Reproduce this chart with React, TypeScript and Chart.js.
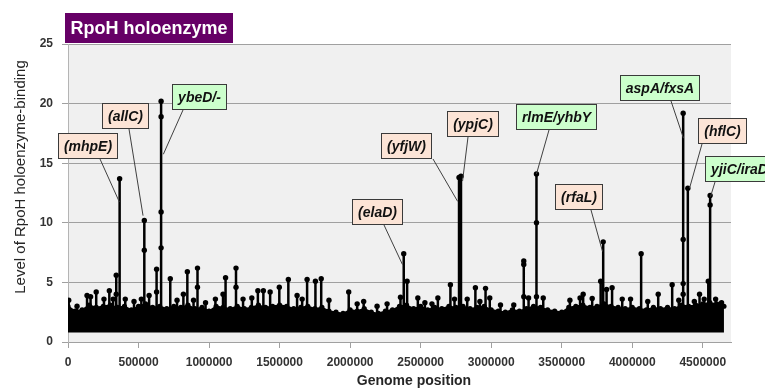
import React, { useEffect, useRef } from "react";
import { Chart, registerables } from "chart.js";

Chart.register(...registerables);

const FONT = "'Liberation Sans', Arial, Helvetica, sans-serif";

// ---------- data ----------
const xTickValues = [0, 500000, 1000000, 1500000, 2000000, 2500000, 3000000, 3500000, 4000000, 4500000];
const xMax = 4700000;
const yMax = 25;
const yTickStep = 5;

// upper edge of the dense background band, every 50 kb from 0
const bandStep = 50000;
const bandTop = [
  3.0, 2.6, 2.7, 3.1, 2.9, 3.0, 3.1, 2.9, 3.0, 2.7,
  3.0, 3.2, 2.9, 3.0, 2.8, 3.0, 2.9, 3.1, 2.8, 2.9,
  2.6, 3.0, 2.9, 2.8, 3.0, 2.8, 2.9, 3.1, 2.9, 3.0,
  3.1, 3.0, 2.8, 2.9, 3.0, 2.8, 2.9, 2.6, 2.5, 2.4,
  2.7, 2.6, 2.8, 2.5, 2.4, 2.6, 2.7, 3.0, 3.1, 2.8,
  3.0, 2.7, 2.9, 2.8, 3.0, 2.9, 3.0, 2.8, 2.9, 3.0,
  2.7, 2.6, 2.5, 2.7, 2.6, 2.8, 3.0, 2.9, 2.7, 2.6,
  2.5, 2.9, 3.0, 3.1, 2.9, 3.0, 3.2, 3.0, 2.9, 2.8,
  2.9, 2.8, 2.7, 2.9, 2.8, 2.9, 2.8, 3.1, 3.0, 3.1,
  3.2, 3.3, 3.2, 3.0,
];
const bandFloor = 0.8;
const stemBase = 1.0;

// isolated binding peaks: genome position and the marker levels along each stem
const stemPositions = [
  5000, 64000, 135000, 160000, 200000, 255000, 293000, 320000, 342000, 366000,
  406000, 468000, 520000, 541000, 575000, 628000, 660000, 725000, 773000, 818000,
  846000, 890000, 918000, 975000, 1045000, 1099000, 1117000, 1191000, 1241000, 1303000,
  1346000, 1385000, 1433000, 1498000, 1562000, 1624000, 1660000, 1695000, 1754000, 1795000,
  1850000, 1990000, 2050000, 2096000, 2191000, 2262000, 2357000, 2380000, 2404000, 2480000,
  2530000, 2580000, 2622000, 2711000, 2740000, 2772000, 2786000, 2830000, 2888000, 2920000,
  2960000, 2990000, 3066000, 3160000, 3231000, 3265000, 3321000, 3369000, 3558000, 3630000,
  3652000, 3716000, 3776000, 3794000, 3818000, 3857000, 3929000, 3988000, 4063000, 4110000,
  4184000, 4283000, 4330000, 4361000, 4394000, 4440000, 4477000, 4510000, 4539000, 4552000,
  4591000, 4633000,
];
const stemLevels = [
  [3.5], [3.0], [3.9], [3.8], [4.2], [3.6], [4.3], [3.6], [4.0, 5.6], [13.7],
  [3.6], [3.4], [3.6], [7.7, 10.2], [3.9], [4.2, 6.1], [7.9, 10.9, 18.9, 20.2], [5.3], [3.5], [4.0],
  [5.9], [3.5], [4.6, 6.2], [3.3], [3.6], [4.0], [5.4], [4.6, 6.2], [3.6], [3.7],
  [4.3], [4.3], [4.2], [4.6], [5.25], [3.9], [3.6], [5.25], [5.1], [5.3],
  [3.5], [4.2], [3.2], [3.4], [3.0], [3.2], [3.75], [7.4], [5.1], [3.7],
  [3.3], [3.2], [3.7], [4.8], [3.6], [13.8], [13.9], [3.6], [4.55], [3.4],
  [4.5], [3.7], [3.1], [3.1], [3.8, 6.5, 6.8], [3.7], [3.8, 10.0, 14.1], [3.7], [3.5], [3.7],
  [4.0], [3.65], [5.1], [8.4], [4.4], [4.55], [3.6], [3.6], [7.4], [3.4],
  [4.0], [4.8], [3.5], [4.0, 4.9, 8.6, 19.2], [12.9], [3.4], [4.0], [3.6], [5.1], [11.5, 12.3],
  [3.6], [3.3],
];

// gene annotations
const geneNames = [
  "(mhpE)", "(allC)", "ybeD/-", "(elaD)", "(yfjW)", "(ypjC)",
  "rlmE/yhbY", "(rfaL)", "aspA/fxsA", "(hflC)", "yjiC/iraD",
];
const geneDirect = [false, false, true, false, false, false, true, false, true, false, true];
const leaderTargetPos = [364000, 532000, 676000, 2371000, 2762000, 2797000, 3321000, 3789000, 4363000, 4406000, 4555000];
const leaderTargetLevel = [11.75, 10.6, 15.75, 6.5, 11.8, 13.5, 14.1, 7.6, 17.1, 12.9, 12.2];

// annotation box layout (left edge in bp, vertical centre in level units, leader start offset in px)
const boxLeft = [-69000, 243000, 740000, 2016000, 2222000, 2690000, 3179000, 3449000, 3910000, 4463000, 4513000];
const boxMid = [16.42, 18.92, 20.58, 10.92, 16.42, 18.29, 18.875, 12.125, 21.33, 17.67, 14.54];
const leaderDx = [42, 27, 11, 32, 52, 21, 33, 36, 51, 4, 10];

const titleText = "RpoH holoenzyme";
const yTitle = "Level of RpoH holoenzyme-binding";
const xTitle = "Genome position";

// ---------- component ----------
export default function App() {
  const ref = useRef<HTMLCanvasElement | null>(null);

  useEffect(() => {
    document.body.style.margin = "0";
    const canvas = ref.current;
    if (!canvas) return;

    const bandData = bandTop.map((v, i) => ({ x: i * bandStep, y: v }));
    const stemData: any[] = [];
    stemPositions.forEach((p, i) => {
      stemData.push({ x: p, y: stemBase, r: 0 });
      stemLevels[i].forEach((v) => stemData.push({ x: p, y: v, r: 2.7 }));
      stemData.push({ x: p, y: null, r: 0 });
    });

    const decor = {
      id: "decor",
      beforeDraw(chart: any) {
        const { ctx, chartArea: a } = chart;
        ctx.save();
        ctx.fillStyle = "#ffffff";
        ctx.fillRect(0, 0, chart.width, chart.height);
        ctx.fillStyle = "#f0f0f0";
        ctx.fillRect(a.left, a.top, a.right - a.left, a.bottom - a.top);
        ctx.restore();
      },
      afterDatasetsDraw(chart: any) {
        const { ctx } = chart;
        const xs = chart.scales.x;
        const ys = chart.scales.y;
        ctx.save();
        ctx.font = `italic bold 14px ${FONT}`;
        geneNames.forEach((name, i) => {
          const left = xs.getPixelForValue(boxLeft[i]);
          const mid = ys.getPixelForValue(boxMid[i]);
          const tw = ctx.measureText(name).width;
          const w = Math.round(tw + 12);
          const h = 26;
          const top = Math.round(mid - h / 2);
          const lx = Math.round(left);
          ctx.strokeStyle = "#404040";
          ctx.lineWidth = 1;
          ctx.beginPath();
          ctx.moveTo(lx + leaderDx[i], top + h);
          ctx.lineTo(xs.getPixelForValue(leaderTargetPos[i]), ys.getPixelForValue(leaderTargetLevel[i]));
          ctx.stroke();
          ctx.fillStyle = geneDirect[i] ? "#ccffcc" : "#fce4d6";
          ctx.fillRect(lx, top, w, h);
          ctx.strokeStyle = "#3a3a3a";
          ctx.lineWidth = 1;
          ctx.strokeRect(lx + 0.5, top + 0.5, w - 1, h - 1);
          ctx.fillStyle = "#111111";
          ctx.textAlign = "center";
          ctx.textBaseline = "middle";
          ctx.fillText(name, lx + w / 2, top + h / 2 + 1);
        });
        ctx.restore();
      },
      afterDraw(chart: any) {
        const { ctx } = chart;
        ctx.save();
        ctx.fillStyle = "#660066";
        ctx.fillRect(65, 13, 168, 30);
        ctx.fillStyle = "#ffffff";
        ctx.font = `bold 18px ${FONT}`;
        ctx.textAlign = "center";
        ctx.textBaseline = "middle";
        ctx.fillText(titleText, 149, 29);
        ctx.fillStyle = "#262626";
        ctx.font = `bold 14px ${FONT}`;
        ctx.fillText(xTitle, 414, 381);
        ctx.translate(21, 177);
        ctx.rotate(-Math.PI / 2);
        ctx.font = `15px ${FONT}`;
        ctx.fillText(yTitle, 0, 0);
        ctx.restore();
      },
    };

    const chart = new Chart(canvas, {
      type: "line",
      data: {
        datasets: [
          {
            data: stemData,
            borderColor: "#000000",
            borderWidth: 2.5,
            backgroundColor: "#000000",
            pointBackgroundColor: "#000000",
            pointBorderColor: "#000000",
            pointBorderWidth: 0,
            pointRadius: (c: any) => (c.raw && c.raw.r ? c.raw.r : 0),
            spanGaps: false,
            fill: false,
            tension: 0,
          } as any,
          {
            data: bandData,
            borderColor: "#000000",
            borderWidth: 1.5,
            backgroundColor: "#000000",
            pointBackgroundColor: "#000000",
            pointBorderColor: "#000000",
            pointBorderWidth: 0,
            pointRadius: 2.6,
            fill: { value: bandFloor },
            tension: 0,
          } as any,
        ],
      },
      options: {
        responsive: false,
        animation: false,
        devicePixelRatio: 1,
        events: [],
        layout: { padding: { left: 0, right: 34, top: 44, bottom: 0 } },
        plugins: {
          legend: { display: false },
          tooltip: { enabled: false },
        },
        scales: {
          x: {
            type: "linear",
            min: 0,
            max: xMax,
            afterBuildTicks: (s: any) => {
              s.ticks = xTickValues.map((v) => ({ value: v }));
            },
            afterFit: (s: any) => {
              s.height = 46;
            },
            ticks: {
              autoSkip: false,
              maxRotation: 0,
              minRotation: 0,
              padding: 7,
              color: "#333333",
              font: { family: FONT, size: 12, weight: "bold" },
              callback: (v: any) => String(v),
            },
            grid: {
              drawOnChartArea: false,
              drawTicks: true,
              tickLength: 6,
              tickColor: "#a0a0a0",
            },
            border: { display: true, color: "#a0a0a0" },
          },
          y: {
            min: 0,
            max: yMax,
            afterFit: (s: any) => {
              s.width = 68;
            },
            ticks: {
              stepSize: yTickStep,
              padding: 9,
              color: "#333333",
              font: { family: FONT, size: 12, weight: "bold" },
            },
            grid: {
              color: "#a0a0a0",
              lineWidth: 1,
              tickLength: 6,
              tickColor: "#a0a0a0",
            },
            border: { display: true, color: "#b4b4b4" },
          },
        },
      } as any,
      plugins: [decor],
    });

    return () => chart.destroy();
  }, []);

  return (
    <div style={{ width: 765, height: 388, position: "relative" }}>
      <canvas ref={ref} width={765} height={388} style={{ display: "block" }} />
    </div>
  );
}
